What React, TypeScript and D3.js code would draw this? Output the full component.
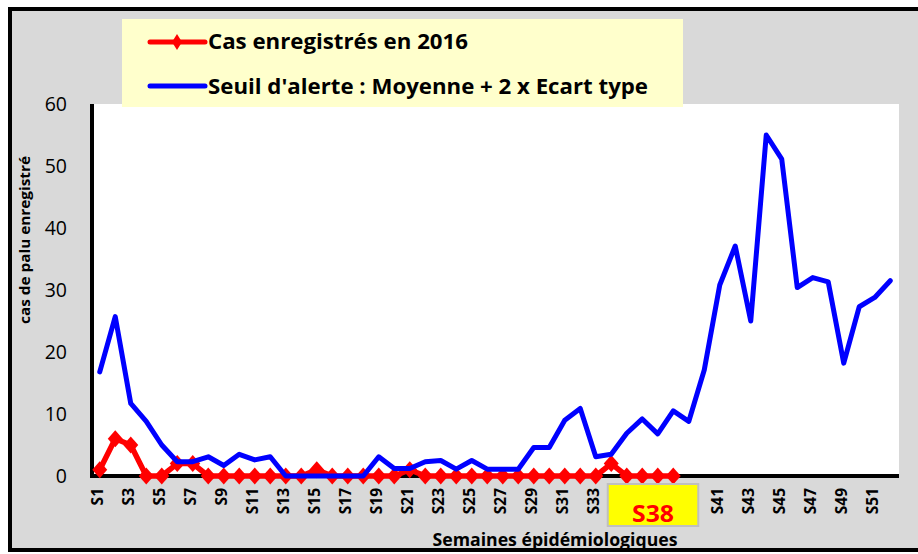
import React from "react";
import * as d3 from "d3";

const weeks: string[] = Array.from({ length: 52 }, (_, i) => `S${i + 1}`);

const cases2016: number[] = [
  1, 6, 5, 0, 0, 2, 2, 0, 0, 0,
  0, 0, 0, 0, 1, 0, 0, 0, 0, 0,
  1, 0, 0, 0, 0, 0, 0, 0, 0, 0,
  0, 0, 0, 2, 0, 0, 0, 0,
];

const alertThreshold: number[] = [
  16.8, 25.7, 11.7, 8.8, 5.0, 2.3, 2.3, 3.1, 1.7, 3.5,
  2.6, 3.1, 0, 0, 0, 0, 0, 0, 3.1, 1.2,
  1.2, 2.3, 2.5, 1.1, 2.5, 1.1, 1.1, 1.1, 4.6, 4.6,
  9.0, 10.9, 3.1, 3.5, 6.9, 9.2, 6.8, 10.5, 8.8, 17.1,
  30.8, 37.1, 25.0, 55.0, 51.1, 30.4, 32.0, 31.3, 18.2, 27.3,
  28.8, 31.5,
];

const yTicks: number[] = [0, 10, 20, 30, 40, 50, 60];
const legendLabels: string[] = [
  "Cas enregistrés en 2016",
  "Seuil d'alerte : Moyenne + 2 x Ecart type",
];
const xTitle = "Semaines épidémiologiques";
const yTitle = "cas de palu enregistré";
const highlightWeek = "S38";

const W = 918;
const H = 554;
const plot = { left: 92, right: 898, top: 104, bottom: 476 };
const FONT = "'Open Sans', 'DejaVu Sans', sans-serif";

export default function App() {
  const x = d3
    .scaleBand<string>()
    .domain(weeks)
    .range([plot.left, plot.right])
    .padding(0);
  const cx = (w: string) => (x(w) as number) + x.bandwidth() / 2;
  const y = d3.scaleLinear().domain([0, 60]).range([plot.bottom, plot.top]);

  const line = d3
    .line<number>()
    .x((_, i) => cx(weeks[i]))
    .y((d) => y(d));

  const diamond = (px: number, py: number, hw = 7.5, hh = 8.5) =>
    `M${px},${py - hh}L${px + hw},${py}L${px},${py + hh}L${px - hw},${py}Z`;

  const hx0 = cx("S35") - 19;
  const hx1 = cx("S40") - 6;

  return (
    <svg
      width={W}
      height={H}
      style={{ position: "absolute", left: 0, top: 0 }}
      fontFamily={FONT}
    >
      <rect x={0} y={0} width={W} height={H} fill="#ffffff" />
      <rect
        x={10}
        y={9}
        width={W + 20}
        height={541}
        fill="#d9d9d9"
        stroke="#000"
        strokeWidth={4}
      />
      {/* plot area */}
      <rect
        x={plot.left}
        y={plot.top}
        width={plot.right + 1 - plot.left}
        height={plot.bottom - plot.top}
        fill="#fff"
      />
      {/* axes */}
      <line
        x1={plot.left}
        x2={plot.left}
        y1={plot.top}
        y2={plot.bottom + 2}
        stroke="#000"
        strokeWidth={4}
      />
      <line
        x1={plot.left - 2}
        x2={plot.right + 1}
        y1={plot.bottom}
        y2={plot.bottom}
        stroke="#000"
        strokeWidth={4}
      />
      {/* y tick labels */}
      {yTicks.map((t) => (
        <text
          key={t}
          x={67}
          y={y(t)}
          dy="0.36em"
          textAnchor="end"
          fontSize={19.5}
          fill="#000"
        >
          {t}
        </text>
      ))}
      {/* x tick labels */}
      {weeks
        .filter((_, i) => i % 2 === 0)
        .map((w) => (
          <text
            key={w}
            transform={`translate(${cx(w) - 2},${488}) rotate(-90)`}
            dy="0.36em"
            textAnchor="end"
            fontSize={15.5}
            fontWeight="bold"
            fill="#000"
          >
            {w}
          </text>
        ))}
      {/* series: red */}
      <path
        d={line(cases2016) || ""}
        fill="none"
        stroke="#ff0000"
        strokeWidth={5.5}
        strokeLinejoin="round"
      />
      {cases2016.map((v, i) => (
        <path key={i} d={diamond(cx(weeks[i]), y(v))} fill="#ff0000" />
      ))}
      {/* series: blue */}
      <path
        d={line(alertThreshold) || ""}
        fill="none"
        stroke="#0000ff"
        strokeWidth={5}
        strokeLinejoin="round"
        strokeLinecap="round"
      />
      {/* highlight box */}
      <rect
        x={hx0}
        y={484}
        width={hx1 - hx0}
        height={42}
        fill="#ffff00"
        stroke="#bfbfbf"
        strokeWidth={2}
      />
      <text
        x={(hx0 + hx1) / 2}
        y={522}
        textAnchor="middle"
        fontSize={24}
        fontWeight="bold"
        fill="#ff0000"
        textLength={42}
        lengthAdjust="spacingAndGlyphs"
      >
        {highlightWeek}
      </text>
      {/* axis titles */}
      <text
        x={555}
        y={546}
        textAnchor="middle"
        fontSize={18}
        fontWeight="bold"
        fill="#000"
        textLength={245}
        lengthAdjust="spacingAndGlyphs"
      >
        {xTitle}
      </text>
      <text
        transform={`translate(30,240) rotate(-90)`}
        textAnchor="middle"
        fontSize={13.5}
        fontWeight="bold"
        fill="#000"
        textLength={168}
        lengthAdjust="spacingAndGlyphs"
      >
        {yTitle}
      </text>
      {/* legend */}
      <rect x={122} y={19} width={561} height={88} fill="#ffffcc" />
      <line x1={150} x2={205} y1={42} y2={42} stroke="#ff0000" strokeWidth={5} strokeLinecap="round" />
      <path d={diamond(177, 42, 5, 8)} fill="#ff0000" />
      <text
        x={208}
        y={48.5}
        fontSize={21}
        fontWeight="bold"
        fill="#000"
        textLength={260}
        lengthAdjust="spacingAndGlyphs"
      >
        {legendLabels[0]}
      </text>
      <line x1={150} x2={205} y1={86} y2={86} stroke="#0000ff" strokeWidth={5} strokeLinecap="round" />
      <text
        x={208}
        y={93.5}
        fontSize={21}
        fontWeight="bold"
        fill="#000"
        textLength={440}
        lengthAdjust="spacingAndGlyphs"
      >
        {legendLabels[1]}
      </text>
    </svg>
  );
}
